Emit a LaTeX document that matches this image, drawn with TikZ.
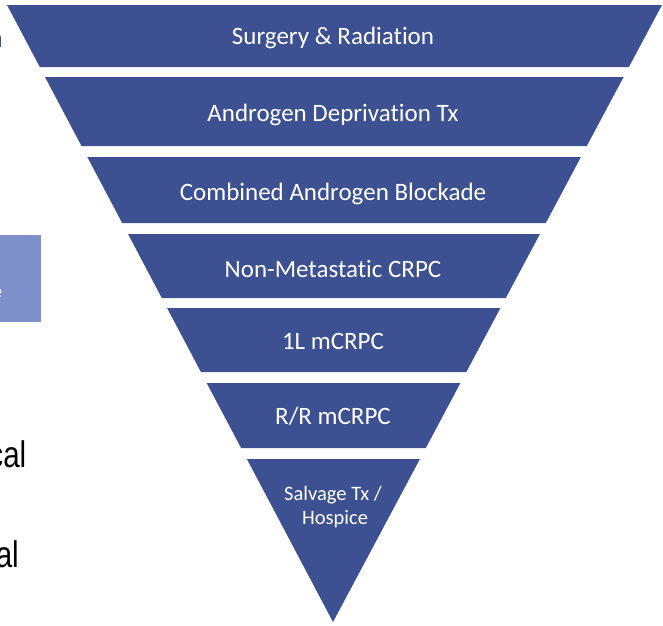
\documentclass[tikz,border=0pt]{standalone}
\usepackage{fontspec}
\setmainfont{Carlito}[Ligatures=NoCommon]
\newfontfamily\arialf{Liberation Sans}
\definecolor{funnel}{HTML}{3D5192}
\definecolor{sideblue}{HTML}{7F8FC9}
\begin{document}
\begin{tikzpicture}[x=1pt,y=-1pt,
  layerfill/.style={fill=funnel},
  lbl/.style={text=white,font=\fontsize{25}{30}\selectfont,inner sep=0pt,anchor=base},
  smalllbl/.style={text=white,font=\fontsize{20.5}{25}\selectfont,inner sep=0pt,anchor=base},
  sidetext/.style={font=\arialf\fontsize{37}{44}\selectfont,inner sep=0pt,anchor=base east}]
\useasboundingbox (0,0) rectangle (663,625);
\clip (0,0) rectangle (663,625);
% side fragments
\fill[sideblue] (-10,235) rectangle (41,322);
\node[text=white,font=\arialf\fontsize{20}{24}\selectfont,inner sep=0pt,anchor=base east] (fragE) at (2.5,298) {e};
\node[text=funnel,font=\arialf\fontsize{24}{28}\selectfont,inner sep=0pt,anchor=base east] (fragN) at (3,47) {n};
\node[sidetext] (fragCal) at (26.5,467) {\scalebox{0.8}[1]{cal}};
\node[sidetext] (fragAl) at (19,567) {\scalebox{0.8}[1]{al}};
% funnel layers
\fill[layerfill] (7,5) -- (662,5) -- (628.9,67) -- (39.8,67) -- cycle;
\fill[layerfill] (45.0,77) -- (623.6,77) -- (586.8,146) -- (81.5,146) -- cycle;
\fill[layerfill] (87.3,157) -- (580.9,157) -- (545.8,223) -- (122.2,223) -- cycle;
\fill[layerfill] (128.0,234) -- (539.9,234) -- (505.8,298) -- (161.8,298) -- cycle;
\fill[layerfill] (167.1,308) -- (500.4,308) -- (466.3,372) -- (200.9,372) -- cycle;
\fill[layerfill] (206.7,383) -- (460.4,383) -- (425.8,448) -- (241.1,448) -- cycle;
\fill[layerfill] (246.9,459) -- (419.9,459) -- (333,622) -- cycle;
% labels
\node[lbl] (l1) at (333,44) {Surgery \& Radiation};
\node[lbl] (l2) at (333,121) {Androgen Deprivation Tx};
\node[lbl] (l3) at (333,200) {Combined Androgen Blockade};
\node[lbl] (l4) at (333,277) {Non-Metastatic CRPC};
\node[lbl] (l5) at (333,349) {1L mCRPC};
\node[lbl] (l6) at (333,424) {R/R mCRPC};
\node[smalllbl] (l7a) at (333,500.5) {Salvage Tx /};
\node[smalllbl] (l7b) at (335,524) {Hospice};
\end{tikzpicture}
\end{document}
